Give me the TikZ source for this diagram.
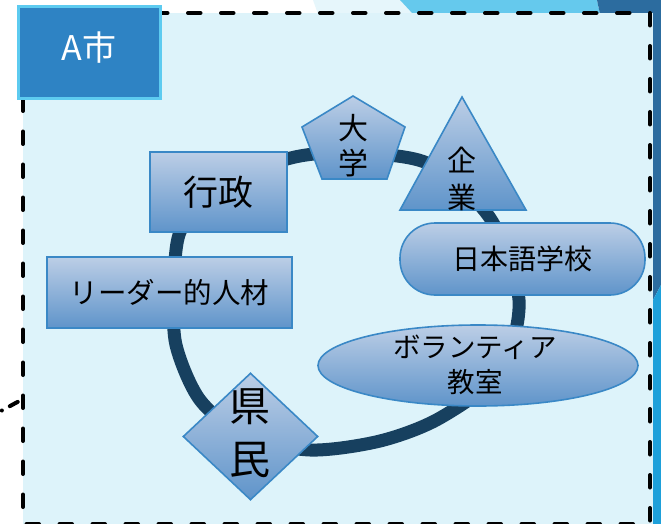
\documentclass[tikz,border=0pt]{standalone}
\usepackage{fontspec}
\setmainfont{Noto Sans CJK JP}
\usetikzlibrary{shapes.geometric}
\definecolor{panelbg}{HTML}{DDF3FA}
\definecolor{palebg}{HTML}{E6F6FB}
\definecolor{skyblue}{HTML}{65C9ED}
\definecolor{deepblue}{HTML}{2C6C9F}
\definecolor{brightblue}{HTML}{1EA0DA}
\definecolor{ringcol}{HTML}{17405F}
\definecolor{shptop}{HTML}{BCCEE6}
\definecolor{shpbot}{HTML}{5F94CA}
\definecolor{shpline}{HTML}{3A88C6}
\definecolor{titlefill}{HTML}{2E83C4}
\definecolor{titleline}{HTML}{5DCBF0}
\begin{document}
\begin{tikzpicture}[x=1pt,y=-1pt,
  shp/.style={draw=shpline, line width=1.6pt, top color=shptop, bottom color=shpbot},
  lbl/.style={inner sep=0pt, align=center, text=black},
  dashline/.style={draw=black, line width=4pt, line cap=round, dash pattern=on 12.5pt off 20.5pt},
  stubline/.style={draw=black, line width=4pt, line cap=round, dash pattern=on 0pt off 6pt on 9pt off 9pt on 0.1pt off 40pt},
  ring/.style={draw=ringcol, line width=13pt}]
\useasboundingbox (0,0) rectangle (661,524);
% background artwork
\fill[white] (0,0) rectangle (661,524);
\fill[palebg] (313,0) -- (400,0) -- (413,14) -- (318,14) -- cycle;
\fill[skyblue] (400,0) -- (597,0) -- (600,14) -- (413,14) -- cycle;
\fill[deepblue] (597,0) -- (661,0) -- (661,285) -- (653,300) -- (653,14) -- (600,14) -- cycle;
\fill[brightblue] (653,300) -- (661,285) -- (661,524) -- (653,524) -- cycle;
% panel
\fill[panelbg] (23,13) rectangle (653,524);
\draw[dashline] (23,13) -- (650,13) -- (650,524) -- (23,524) -- cycle;
\coordinate (lc) at (23,399);
\coordinate (lf) at (-12,418);
\draw[stubline] (lc) -- (lf);
% ring
\draw[ring] plot[smooth cycle] coordinates {(345,153) (427,163) (490,218) (519,300) (500,372) (440,418) (380,441) (310,450) (245,436) (200,400) (176,345) (174,290) (180,232) (215,190) (287,159)};
% shapes
\node[shp, rectangle, minimum width=137pt, minimum height=80pt, inner sep=0pt,
  font=\fontsize{35}{35}\selectfont] (gyosei) at (218.5,192) {行政};
\node[shp, rectangle, minimum width=245pt, minimum height=71pt, inner sep=0pt,
  font=\fontsize{28.5}{28.5}\selectfont] (leader) at (169.5,292.5) {リーダー的人材};
\node[shp, rectangle, rounded corners=35pt, minimum width=245pt, minimum height=72pt, inner sep=0pt,
  font=\fontsize{28}{28}\selectfont] (nihongo) at (522.5,259) {日本語学校};
\draw[shp] (353,96) -- (405,127) -- (387,179) -- (322,179) -- (302,127) -- cycle;
\node[lbl, font=\fontsize{30}{35}\selectfont] (daigaku) at (353,146) {大\\学};
\draw[shp] (462,97) -- (526,210) -- (400,210) -- cycle;
\node[lbl, font=\fontsize{29}{37}\selectfont] (kigyo) at (462,178.5) {企\\業};
\node[shp, ellipse, minimum width=320pt, minimum height=81pt, inner sep=0pt] (volshape) at (478,365.5) {};
\node[lbl, font=\fontsize{27.5}{35}\selectfont] (volunteer) at (475,364.5) {ボランティア\\教室};
\node[shp, diamond, minimum width=135pt, minimum height=127pt, inner sep=0pt] (kenshape) at (250.5,436.5) {};
\node[lbl, font=\fontsize{41}{53}\selectfont] (kenmin) at (250,433.5) {県\\民};
% title
\node[draw=titleline, line width=3pt, fill=titlefill, minimum width=142pt, minimum height=92pt, inner sep=0pt] (titlebox) at (89.5,52.5) {};
\node[inner sep=0pt, text=white, font=\fontsize{34}{34}\selectfont] (title) at (89,48) {A市};
\end{tikzpicture}
\end{document}
